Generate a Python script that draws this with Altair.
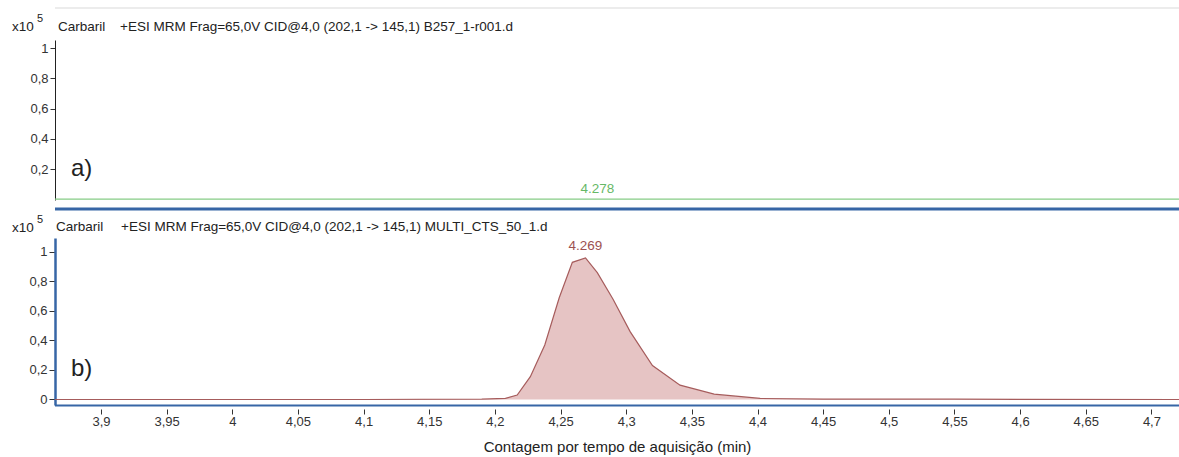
import altair as alt
import pandas as pd

# ---------------- data ----------------
x_ticks = [3.9, 3.95, 4.0, 4.05, 4.1, 4.15, 4.2, 4.25, 4.3, 4.35, 4.4, 4.45, 4.5, 4.55, 4.6, 4.65, 4.7]
ya_ticks = [0.2, 0.4, 0.6, 0.8, 1.0]
yb_ticks = [0.0, 0.2, 0.4, 0.6, 0.8, 1.0]

# panel a) blank B257_1-r001.d (x10^5 counts)
time_a = [3.865, 4.0, 4.2, 4.278, 4.4, 4.6, 4.721]
int_a = [0.003, 0.003, 0.003, 0.003, 0.003, 0.003, 0.003]
peak_a_time = [4.278]
peak_a_int = [0.003]
peak_a_label = ["4.278"]

# panel b) MULTI_CTS_50_1.d (x10^5 counts)
time_b = [3.865, 4.0, 4.1, 4.19, 4.208, 4.217, 4.227, 4.238, 4.249, 4.259, 4.269,
          4.278, 4.290, 4.303, 4.320, 4.341, 4.367, 4.402, 4.45, 4.55, 4.721]
int_b = [0.0, 0.0, 0.0, 0.002, 0.008, 0.03, 0.155, 0.37, 0.69, 0.93, 0.96,
         0.86, 0.68, 0.46, 0.23, 0.097, 0.036, 0.007, 0.003, 0.002, 0.0]
peak_b_time = [4.269]
peak_b_int = [0.96]
peak_b_label = ["4.269"]

title_a = "+ESI MRM Frag=65,0V CID@4,0 (202,1 -> 145,1) B257_1-r001.d"
title_b = "+ESI MRM Frag=65,0V CID@4,0 (202,1 -> 145,1) MULTI_CTS_50_1.d"
compound = "Carbaril"
x_title = "Contagem por tempo de aquisição (min)"

df_a = pd.DataFrame({"t": time_a, "v": int_a})
df_a_pk = pd.DataFrame({"t": peak_a_time, "v": peak_a_int, "lab": peak_a_label})
df_b = pd.DataFrame({"t": time_b, "v": int_b})
df_b_pk = pd.DataFrame({"t": peak_b_time, "v": peak_b_int, "lab": peak_b_label})

# ---------------- style ----------------
FONT = "Liberation Sans"
W, H = 1124, 405
GREEN = "#86cc86"
GREEN_TXT = "#66b866"
BLUE = "#3766a6"
FILL = "#e6c4c4"
RED = "#a65c5c"
RED_TXT = "#9c5252"
LBL = 13

xscale = alt.Scale(domain=[3.865, 4.721], nice=False, zero=False)
xaxis = alt.Axis(values=x_ticks,
                 labelExpr="replace(format(datum.value, '.2~f'), '.', ',')",
                 title=x_title, domain=False, offset=4, tickSize=5, tickColor="#333",
                 labelFont=FONT, labelFontSize=LBL, labelColor="#333", labelPadding=1,
                 titleFont=FONT, titleFontSize=15, titleFontWeight="normal",
                 titleColor="#222", titlePadding=11, grid=False, labelFlush=False)
X = alt.X("t:Q", scale=xscale, axis=xaxis)

ya_scale = alt.Scale(domain=[-0.003, 1.053], range=[200, 40], nice=False, zero=False)
ya_axis = alt.Axis(values=ya_ticks, orient="left",
                   labelExpr="replace(format(datum.value, '.1~f'), '.', ',')",
                   title=None, domainColor="#222", domainWidth=1, tickSize=5,
                   tickColor="#333", labelFont=FONT, labelFontSize=LBL,
                   labelColor="#333", labelPadding=2, grid=False)
YA = alt.Y("v:Q", scale=ya_scale, axis=ya_axis)

yb_scale = alt.Scale(domain=[-0.0373, 1.0949], range=[405, 238], nice=False, zero=False)
yb_axis = alt.Axis(values=yb_ticks, orient="left",
                   labelExpr="replace(format(datum.value, '.1~f'), '.', ',')",
                   title=None, domainColor=BLUE, domainWidth=2.5, tickSize=6,
                   tickColor="#333", labelFont=FONT, labelFontSize=LBL,
                   labelColor="#333", labelPadding=2, grid=False)
YB = alt.Y("v:Q", scale=yb_scale, axis=yb_axis)

# ---------------- panels ----------------
top_line = alt.Chart(df_a).mark_line(color=GREEN, strokeWidth=1.3).encode(x=X, y=YA)
top_lbl = alt.Chart(df_a_pk).mark_text(color=GREEN_TXT, font=FONT, fontSize=13.5,
                                        dy=-10, baseline="middle").encode(x=X, y=YA, text="lab:N")
top_layer = alt.layer(top_line, top_lbl)

bot_area = alt.Chart(df_b).mark_area(color=FILL, opacity=1).encode(x=X, y=YB)
bot_line = alt.Chart(df_b).mark_line(color=RED, strokeWidth=1.2).encode(x=X, y=YB)
bot_lbl = alt.Chart(df_b_pk).mark_text(color=RED_TXT, font=FONT, fontSize=13.5,
                                        dy=-12, baseline="middle").encode(x=X, y=YB, text="lab:N")
bot_layer = alt.layer(bot_area, bot_line, bot_lbl)

one = pd.DataFrame({"k": [0]})


def txt(s, x, y, size=13, color="#222"):
    return alt.Chart(one).mark_text(text=s, font=FONT, fontSize=size, color=color,
                                    align="left", baseline="middle").encode(
        x=alt.value(x), y=alt.value(y))


def hrule(y, color, width, x0=0, x1=W):
    return alt.Chart(one).mark_rule(color=color, strokeWidth=width).encode(
        x=alt.value(x0), x2=alt.value(x1), y=alt.value(y))


annots = [
    hrule(8, "#ececec", 2),
    hrule(209, BLUE, 3),
    hrule(405.5, BLUE, 2),
    txt("x10", -43, 27, size=13.5),
    txt("5", -18, 19, size=11),
    txt(compound, 3, 27, size=13.5),
    txt(title_a, 65, 27, size=13.5),
    txt("x10", -43, 228, size=13.5),
    txt("5", -18, 220, size=11),
    txt(compound, 1, 227, size=13.5),
    txt(title_b, 66, 227, size=13.5),
    txt("a)", 16, 169, size=24),
    txt("b)", 16, 369, size=24),
]

chart = alt.layer(top_layer, bot_layer, *annots).resolve_scale(
    y="independent").properties(
    width=W, height=H,
    autosize=alt.AutoSizeParams(type="none"),
    padding={"left": 55, "top": 0, "right": 0, "bottom": 52},
    background="white",
).configure_view(stroke=None)

chart.save("out.html", embed_options={"renderer": "svg", "actions": False})
